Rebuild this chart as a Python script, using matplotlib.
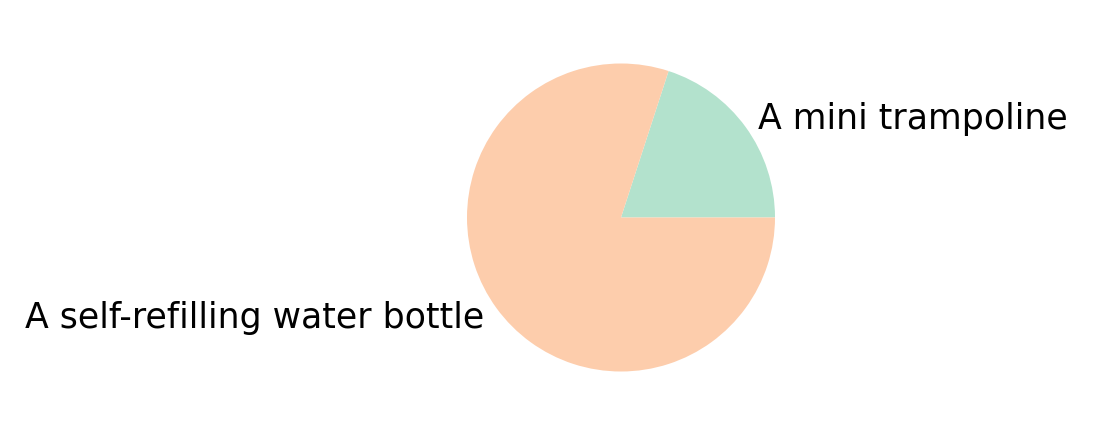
import matplotlib
matplotlib.use("Agg")
import matplotlib.pyplot as plt

# data
labels = ['A mini trampoline', 'A self-refilling water bottle']
shares = [20, 80]
colors = ['#b3e2cd', '#fdcdac']

W, H = 1093, 435
fig = plt.figure(figsize=(W / 100, H / 100), dpi=100)

# radius ~154 px, centre at (621, 217) from top
r = 154.0
lim = 1.25
side = 2 * lim * r
cx, cy = 621, H - 218.5
ax = fig.add_axes([(cx - side / 2) / W, (cy - side / 2) / H, side / W, side / H])

ax.pie(shares, labels=labels, colors=colors, startangle=0,
       textprops={'fontsize': 25})
ax.set_xlim(-lim, lim)
ax.set_ylim(-lim, lim)
ax.set_aspect('equal')
ax.axis('off')

fig.savefig('out.png', dpi=100)
